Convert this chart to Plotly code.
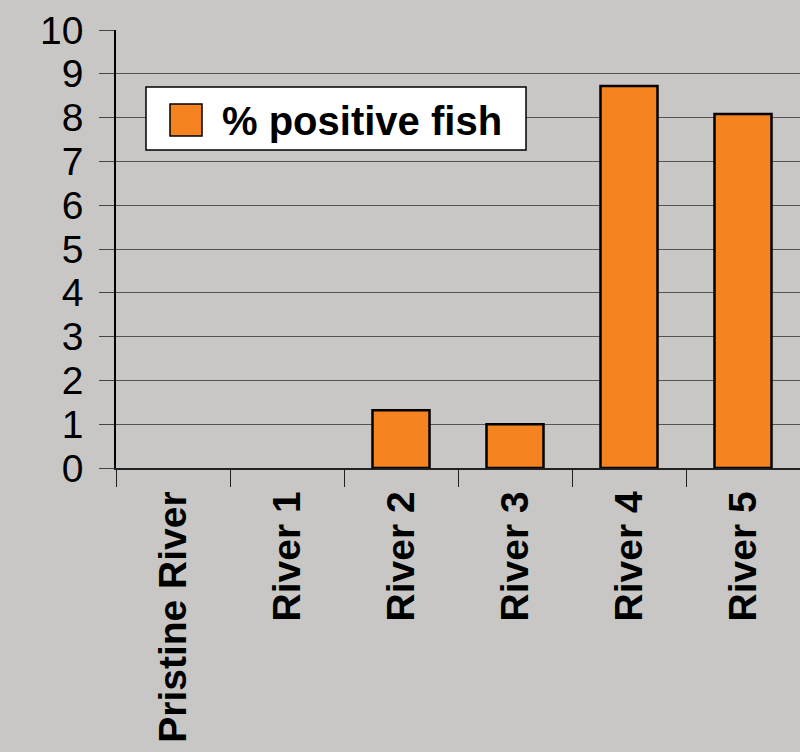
import plotly.graph_objects as go

categories = ["Pristine River", "River 1", "River 2", "River 3", "River 4", "River 5"]
positive_fish = [0, 0, 1.32, 1.0, 8.72, 8.08]
y_ticks = list(range(0, 11))
series_name = "% positive fish"

BG = "#c9c7c5"
ORANGE = "#f58420"
FONT = "Liberation Sans, Arial, Helvetica, sans-serif"

# zero-height bars show no outline in the original
outline_widths = [2.5 if v > 0 else 0 for v in positive_fish]

fig = go.Figure()
fig.add_trace(go.Bar(
    x=categories, y=positive_fish, name=series_name,
    width=0.5, marker=dict(color=ORANGE, line=dict(color="black", width=outline_widths)),
    showlegend=False,
))

# manual legend (large swatch like the original)
fig.add_shape(type="rect", xref="paper", yref="paper",
              x0=(146 - 116) / 684, x1=(526 - 116) / 684,
              y0=(468 - 150) / 438, y1=(468 - 87) / 438,
              fillcolor="white", line=dict(color="black", width=1.5), layer="above")
fig.add_shape(type="rect", xref="paper", yref="paper",
              x0=(170 - 116) / 684, x1=(202 - 116) / 684,
              y0=(468 - 136) / 438, y1=(468 - 104) / 438,
              fillcolor=ORANGE, line=dict(color="black", width=1.5), layer="above")
fig.add_annotation(xref="paper", yref="paper",
                   x=(220 - 116) / 684, y=(468 - 121) / 438,
                   xanchor="left", yanchor="middle", showarrow=False,
                   text="<b>" + series_name + "</b>",
                   font=dict(family=FONT, size=40, color="black"))

fig.update_layout(
    width=800, height=752,
    margin=dict(l=116, r=0, t=30, b=284),
    paper_bgcolor=BG, plot_bgcolor=BG,
    font=dict(family=FONT, color="black"),
)
fig.update_xaxes(
    type="category", tickangle=-90, automargin=False,
    tickfont=dict(family=FONT, size=39, color="black", weight="bold"),
    showline=True, linecolor="#222", linewidth=1.5,
    ticks="outside", tickson="boundaries", ticklen=17, tickcolor="#222", tickwidth=1.2,
    ticklabelstandoff=6,
    showgrid=False,
)
fig.update_yaxes(
    range=[0, 10], tickvals=y_ticks, automargin=False,
    tickfont=dict(family=FONT, size=39, color="black"),
    showline=True, linecolor="black", linewidth=1.5,
    ticks="outside", ticklen=15, tickcolor="#444", tickwidth=1.2,
    ticklabelstandoff=8,
    showgrid=True, gridcolor="#555", gridwidth=1.3,
    zeroline=False,
)

fig.write_html("out.html")
